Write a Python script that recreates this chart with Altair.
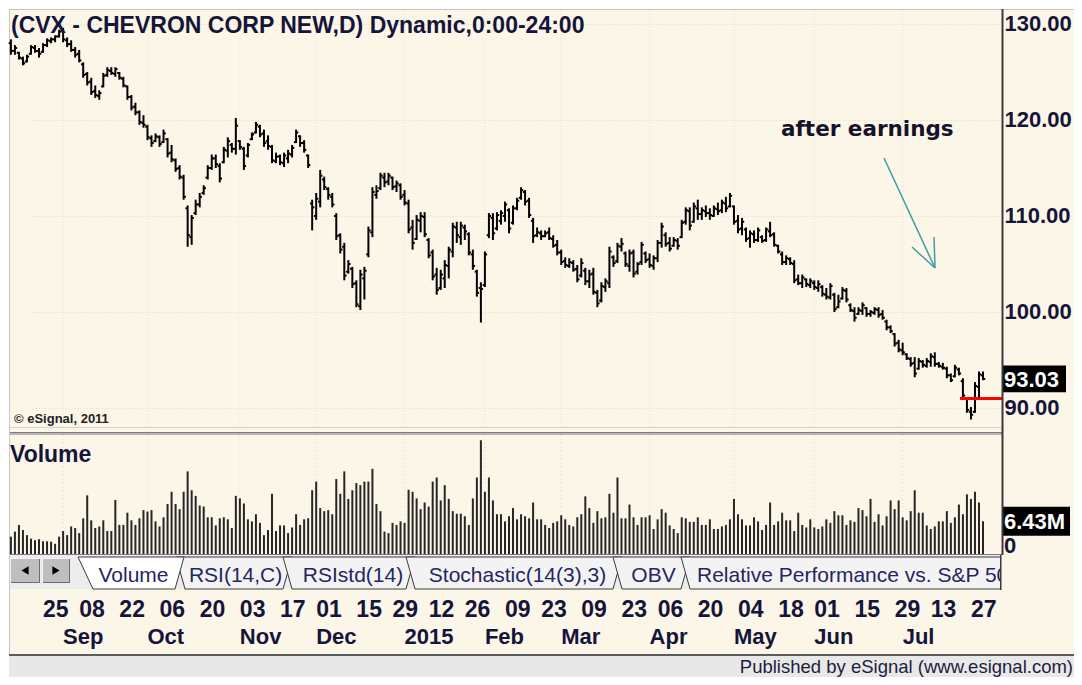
import altair as alt
import pandas as pd

# ---------------- data ----------------
high = [
128.4,127.8,127.1,126.6,126.8,127.8,127.8,127.5,128.0,128.5,
128.6,128.8,129.4,129.6,128.6,128.3,127.6,127.3,126.0,125.0,
124.4,123.6,123.1,124.9,125.5,125.5,125.5,125.0,124.5,123.6,
122.6,121.8,121.0,120.5,119.5,118.4,118.6,118.4,119.0,118.1,
117.4,116.0,115.3,114.3,111.1,110.1,111.7,112.4,113.2,115.3,
116.4,116.4,115.5,117.2,118.2,117.6,120.2,117.9,117.2,117.6,
118.7,119.8,119.5,119.0,118.4,117.4,116.6,116.4,116.6,116.9,
117.4,119.0,118.4,117.9,116.4,111.7,112.4,114.8,114.1,113.0,
112.4,110.3,108.2,107.2,105.4,104.7,103.3,104.4,104.7,108.9,
113.0,113.2,114.5,114.5,114.5,114.1,113.7,113.4,112.7,111.7,
109.6,110.1,110.4,110.4,107.7,106.5,104.6,104.4,105.4,106.8,
109.3,109.4,109.4,109.1,108.3,106.5,104.4,103.1,106.3,110.3,
110.3,110.4,110.6,111.5,110.8,111.1,111.9,113.0,112.7,111.9,
109.8,108.8,108.5,108.5,108.8,108.0,107.5,106.5,105.7,105.6,
105.4,104.9,105.6,104.6,104.4,104.6,102.3,103.1,103.5,106.8,
105.9,107.2,107.7,106.3,106.5,106.5,105.2,107.3,106.3,106.1,
105.9,107.5,109.3,108.3,107.8,107.8,107.7,109.6,110.9,110.9,
111.4,111.7,110.9,111.1,110.8,111.1,111.4,111.7,112.0,112.4,
111.1,110.1,109.8,108.8,108.5,108.5,108.8,108.0,108.8,109.4,
108.3,107.0,106.3,105.9,105.7,105.4,103.9,103.9,103.5,103.5,
103.3,103.3,102.8,102.5,103.0,102.0,101.8,102.6,102.5,100.9,
100.5,100.5,101.0,100.5,100.2,100.5,100.5,100.2,99.2,98.6,
97.8,97.1,96.8,95.7,95.3,95.3,95.2,95.0,95.2,95.7,
95.8,94.8,94.7,94.3,93.6,94.5,94.2,93.1,91.1,90.1,
92.7,93.8,93.8]

low = [
126.8,126.8,126.3,125.7,126.0,126.8,127.0,126.5,127.0,127.6,
128.0,128.1,128.6,128.1,127.6,127.1,126.5,126.0,124.4,123.6,
122.6,122.3,122.1,123.4,124.5,124.7,124.5,124.2,123.4,122.1,
121.0,120.5,119.5,119.2,117.9,117.2,117.7,117.2,117.6,116.1,
115.6,114.6,113.8,111.7,106.8,107.0,110.1,110.9,112.2,113.8,
114.8,115.0,113.5,115.5,116.1,116.6,116.4,116.9,114.8,116.1,
117.9,118.6,118.2,117.2,116.9,115.5,115.5,115.3,115.1,115.5,
116.1,117.6,117.2,116.6,115.0,108.5,109.6,110.9,112.7,111.7,
110.9,107.5,106.1,103.3,104.0,102.5,100.5,100.2,101.3,105.7,
107.8,111.8,112.7,113.0,113.2,112.7,112.5,111.7,111.1,108.2,
106.5,107.5,108.3,107.8,105.6,103.3,101.8,102.3,102.5,103.5,
105.7,107.2,107.0,107.5,105.9,104.4,101.6,98.9,102.6,107.7,
107.5,108.5,109.1,109.4,108.2,109.1,110.6,111.7,111.1,109.8,
107.2,107.8,107.5,107.8,107.5,106.7,105.9,104.9,104.6,104.6,
104.2,103.1,103.6,102.8,102.5,101.8,100.5,101.0,102.1,102.5,
104.7,105.1,106.3,104.7,104.2,103.6,103.9,104.9,105.1,104.6,
104.4,105.2,106.7,106.8,106.3,106.8,106.5,107.7,109.1,108.5,
109.3,109.6,109.6,109.9,109.6,109.9,110.1,110.3,110.4,110.9,
109.1,108.2,108.0,107.3,106.7,107.2,107.3,107.2,107.3,107.8,
106.8,106.1,104.9,104.9,104.9,103.0,102.8,102.5,102.6,102.5,
102.3,102.1,101.6,101.3,101.3,100.0,100.4,101.3,101.0,100.0,
99.0,99.7,99.7,99.5,99.5,99.7,99.4,99.2,98.1,97.8,
96.4,95.8,95.5,95.0,94.3,93.2,94.0,94.2,94.2,94.3,
94.3,94.2,94.0,93.1,92.7,93.2,93.4,91.0,89.5,88.8,
89.5,91.1,92.9]

open_ = [
128.0,127.2,127.0,126.4,126.1,126.9,127.5,127.2,127.1,127.8,
128.2,128.4,128.7,129.3,128.3,127.9,127.3,126.9,125.8,124.8,
124.0,123.0,122.5,123.5,124.7,125.1,124.8,124.9,124.3,123.5,
122.4,121.4,120.8,119.7,119.3,118.1,117.8,118.2,117.7,118.0,
116.6,115.8,115.0,114.0,110.8,107.8,110.3,111.2,112.4,114.0,
115.0,116.0,115.2,115.6,116.8,117.4,117.0,117.8,117.0,116.3,
118.0,118.7,119.3,118.6,117.8,117.2,115.7,116.2,115.5,116.0,
116.4,117.7,118.3,117.6,116.3,111.3,110.0,111.5,113.8,112.8,
112.0,110.0,108.0,106.8,104.2,104.5,103.0,100.6,103.5,106.0,
108.3,112.2,112.9,114.0,113.6,114.0,113.1,113.2,112.2,111.3,
108.8,107.6,109.5,109.9,107.5,106.2,103.9,102.5,103.5,104.8,
106.3,108.8,107.8,108.8,108.1,106.0,104.2,102.5,102.8,108.0,
109.8,108.7,109.5,110.0,110.6,109.3,110.8,111.9,112.5,111.6,
109.5,108.0,108.2,107.9,108.3,107.6,107.0,106.2,105.3,104.8,
105.1,104.5,103.8,104.3,103.2,104.0,102.0,101.2,102.6,103.0,
105.7,105.3,106.8,106.1,104.8,106.2,104.2,105.2,106.1,105.5,
104.8,105.6,107.2,108.0,107.2,106.9,107.4,107.8,109.4,110.5,
109.4,110.8,110.2,110.5,110.3,110.0,110.7,110.6,111.3,111.0,
111.0,109.5,108.7,108.6,107.7,108.1,107.5,107.8,107.5,108.4,
108.1,106.9,106.0,105.2,105.5,105.0,103.4,103.0,103.4,102.8,
103.0,102.5,102.6,101.8,101.5,101.8,100.5,101.4,102.2,100.7,
100.1,99.8,100.1,100.4,99.8,99.9,100.2,99.8,99.0,98.4,
97.7,96.8,96.0,95.6,95.1,94.7,94.1,94.8,94.4,94.8,
95.3,94.6,94.3,94.1,93.4,93.3,94.0,92.8,91.0,89.6,
89.6,92.2,93.4]

close = [
127.2,127.5,126.5,125.9,126.6,127.6,127.2,126.9,127.8,128.3,
128.4,128.7,129.2,128.4,127.9,127.3,126.8,126.2,124.7,123.9,
122.9,122.6,122.8,124.6,125.2,124.9,125.3,124.4,123.6,122.4,
121.3,120.8,119.8,119.5,118.2,117.6,118.3,117.5,118.6,116.5,
115.9,114.9,114.1,112.0,108.0,109.8,111.2,112.0,112.9,115.0,
116.0,115.4,113.9,116.9,117.8,117.0,119.4,117.2,115.2,117.4,
118.5,119.5,118.5,117.6,117.3,115.8,116.2,115.6,116.3,116.5,
117.1,118.7,117.6,116.9,115.3,110.9,111.8,114.2,113.0,112.2,
111.2,107.9,106.5,103.8,105.0,102.9,100.8,103.9,104.3,108.5,
112.5,112.6,114.2,113.5,114.2,113.0,113.4,112.0,111.4,108.6,
107.2,109.6,110.0,108.1,105.9,103.7,102.3,103.9,104.9,106.5,
108.9,108.0,109.0,108.4,106.2,104.8,102.0,102.4,106.0,110.0,
108.2,110.1,110.3,111.2,108.7,110.8,111.6,112.7,111.5,110.1,
107.9,108.3,107.9,108.2,107.7,106.9,106.2,105.2,104.9,105.2,
104.4,103.4,105.1,103.2,103.9,102.1,100.9,102.7,103.2,106.3,
105.1,106.9,107.1,105.0,106.1,104.0,105.0,107.0,105.4,104.9,
105.6,107.2,108.9,107.1,106.6,107.5,106.9,109.3,110.6,109.0,
111.0,110.2,110.6,110.3,110.1,110.8,110.5,111.4,110.8,112.1,
109.4,108.6,109.4,107.6,108.2,107.5,108.5,107.4,108.6,108.0,
107.0,106.3,105.2,105.6,105.1,103.3,103.0,103.6,102.9,103.2,
102.6,102.9,101.9,101.6,102.7,100.3,101.1,102.3,101.3,100.2,
99.4,100.2,100.7,99.8,100.0,100.3,99.7,99.4,98.4,98.0,
96.7,96.1,95.8,95.2,94.6,93.6,94.9,94.5,94.9,95.4,
94.6,94.4,94.2,93.4,92.9,94.2,93.6,91.3,89.8,89.3,
92.3,93.5,93.03]

volume_m = [
3.4,4.4,5.7,4.7,3.7,3.0,2.7,2.9,2.5,2.5,
2.4,2.0,3.4,4.5,3.7,5.4,5.1,4.1,7.0,11.5,
6.6,5.1,5.4,6.6,4.5,4.5,10.6,5.7,5.7,8.1,
6.6,5.7,7.0,8.6,8.3,8.6,6.4,5.4,7.2,9.8,
12.2,9.8,8.8,12.2,16.2,12.5,11.4,9.5,9.3,7.2,
7.2,5.6,7.0,7.2,6.8,5.1,11.4,10.9,9.9,6.8,
6.4,7.8,6.1,3.7,4.7,11.8,4.5,5.6,5.6,4.1,
5.2,7.8,5.7,6.8,7.0,12.5,14.2,9.0,8.4,8.6,
7.8,14.7,11.8,16.2,10.8,12.5,13.9,13.5,14.2,14.2,
16.7,9.8,8.4,4.4,4.1,6.1,5.7,6.4,6.1,12.6,
12.2,10.9,8.8,10.1,9.3,14.2,15.0,10.5,13.5,10.8,
8.4,7.9,7.9,7.4,5.7,10.9,15.0,22.3,12.2,15.0,
10.5,7.8,7.8,6.4,7.4,9.0,6.8,7.8,7.4,7.0,
10.1,6.8,
6.8,5.7,5.1,6.1,6.4,7.6,6.8,5.7,5.4,7.2,
7.8,11.3,9.0,6.1,8.4,7.0,7.2,11.8,8.1,15.0,
7.0,7.0,9.7,7.2,5.7,7.2,7.2,7.6,4.9,6.8,
8.8,8.1,5.6,4.9,4.1,7.2,7.0,6.3,6.3,7.2,
5.7,5.7,6.8,4.9,4.9,5.4,5.7,6.8,10.8,7.8,
6.8,5.6,5.6,7.2,6.4,4.7,5.7,10.1,5.7,6.4,
8.1,6.6,6.6,4.5,8.1,5.7,5.2,6.8,5.2,4.9,
5.4,6.8,6.1,8.4,7.6,7.6,5.7,6.6,6.3,9.0,
8.6,7.4,10.8,6.3,7.8,5.6,7.4,10.5,8.8,10.5,
7.2,6.6,8.4,12.5,8.1,8.1,5.6,4.9,5.4,6.4,
6.4,8.4,6.1,7.2,9.7,7.8,11.7,10.8,12.2,10.1,
6.43]

# trading-day index of the date ticks and their labels
tick_k = [8, 17, 27, 37, 47, 57, 67, 76, 86, 95, 104, 113, 123, 132, 142, 152,
          161, 171, 181, 191, 200, 210, 220, 229, 239]
tick_lab = ["25", "08", "22", "06", "20", "03", "17", "01", "15", "29", "12", "26",
            "09", "23", "09", "23", "06", "20", "04", "18", "01", "15", "29", "13", "27"]
month_k = [13, 34, 57, 76, 98, 118, 137, 159, 180, 200, 222]
month_lab = ["Sep", "Oct", "Nov", "Dec", "2015", "Feb", "Mar", "Apr", "May", "Jun", "Jul"]
price_ticks = [90, 100, 110, 120, 130]
red_level = [91.0]

title_text = "(CVX - CHEVRON CORP NEW,D) Dynamic,0:00-24:00"
tab_names = ["Volume", "RSI(14,C)", "RSIstd(14)", "Stochastic(14(3),3)", "OBV",
             "Relative Performance vs. S&P 500"]

# ---------------- tables ----------------
N = len(close)
bars = pd.DataFrame({"k": list(range(N)), "open": open_, "high": high,
                     "low": low, "close": close, "volume": volume_m})
ticks_df = pd.DataFrame({"k": tick_k, "t": tick_lab})
months_df = pd.DataFrame({"k": month_k, "t": month_lab})
red_df = pd.DataFrame({"p": red_level})
last_df = bars.tail(1)

# ---------------- layout / style ----------------
CREAM = "#FCF6E9"
INK = "#15153a"
FONT = "Liberation Sans"
W, H, RPAD = 994, 669, 72

xs = alt.Scale(domain=[0, 242], range=[2.9, 975.0], nice=False, zero=False)
ps = alt.Scale(domain=[87.8125, 131.4583], range=[421, 2], nice=False, zero=False)
vs = alt.Scale(domain=[0, 23.53], range=[546, 426], nice=False, zero=False)
PXX = alt.Scale(domain=[0, 1066], range=[0, 1066], nice=False, zero=False)
PXY = alt.Scale(domain=[0, 669], range=[0, 669], nice=False, zero=False)

price_axis = alt.Axis(orient="right", values=price_ticks, format=".2f", title=None,
                      domain=False, ticks=False, labelPadding=2, labelFont=FONT,
                      labelFontWeight="bold", labelFontSize=22, labelColor=INK,
                      labelFlush=False, labelOverlap=False, labelBound=False,
                      grid=True, gridColor="#E4DDCC", gridDash=[1, 2], gridWidth=1)
XK = alt.X("k:Q", scale=xs, axis=None)


def px_x(f):
    return alt.X(f, scale=PXX, axis=None)


def px_y(f):
    return alt.Y(f, scale=PXY, axis=None)


def rect_layer(rows):
    df = pd.DataFrame(rows, columns=["x", "x2", "y", "y2", "c"])
    return alt.Chart(df).mark_rect().encode(
        x=px_x("x:Q"), x2="x2:Q", y=px_y("y:Q"), y2="y2:Q",
        color=alt.Color("c:N", scale=None))


def seg_layer(rows):
    df = pd.DataFrame(rows, columns=["x", "y", "x2", "y2", "c", "w"])
    return alt.Chart(df).mark_rule().encode(
        x=px_x("x:Q"), x2="x2:Q", y=px_y("y:Q"), y2="y2:Q",
        color=alt.Color("c:N", scale=None),
        strokeWidth=alt.StrokeWidth("w:Q", scale=None))


def text_layer(rows, **mk):
    df = pd.DataFrame(rows, columns=["x", "y", "t"])
    return alt.Chart(df).mark_text(**mk).encode(x=px_x("x:Q"), y=px_y("y:Q"), text="t:N")


# ---------------- background decorations ----------------
deco_bg = alt.layer(
    rect_layer([
        (0, 1066, 0, 1, "#FFFFFF"),
        (0, 1066, 1, 2, "#C4C4C4"),
        (0, 1, 0, 669, "#FFFFFF"),
        (1, 2, 1, 648, "#C8C8C8"),
        (2, 994, 419, 420, "#D2D2D2"),
        (2, 994, 424, 425.5, "#7A7A7A"),
        (2, 994, 425.5, 427, "#B4B4B4"),
        (2, 994, 546, 547, "#7A7A7A"),
        (2, 992, 547, 581, "#ECECEC"),
        (1, 1066, 646, 648, "#5C5C5C"),
        (1, 1066, 648, 669, "#E8E8E8"),
    ])
)

# ---------------- price panel ----------------
pb = alt.Chart(bars)
grid_p = alt.Chart(months_df).mark_rule(color="#E2DBCA", strokeDash=[1, 3], strokeWidth=1).encode(
    x=XK, y=alt.value(2), y2=alt.value(419))
hl = pb.mark_rule(color="#000000", strokeWidth=2).encode(
    x=XK, y=alt.Y("low:Q", scale=ps, axis=price_axis), y2="high:Q")
otick = pb.transform_calculate(ko="datum.k - 0.55").mark_rule(color="#000000", strokeWidth=2).encode(
    x=alt.X("ko:Q", scale=xs, axis=None), x2="k:Q", y=alt.Y("open:Q", scale=ps, axis=price_axis))
ctick = pb.transform_calculate(kc="datum.k + 0.55").mark_rule(color="#000000", strokeWidth=2).encode(
    x=XK, x2="kc:Q", y=alt.Y("close:Q", scale=ps, axis=price_axis))
redline = alt.Chart(red_df).mark_rule(color="#FF0000", strokeWidth=3).encode(
    x=alt.value(952), x2=alt.value(994), y=alt.Y("p:Q", scale=ps, axis=price_axis))
last_box = alt.Chart(last_df).transform_calculate(
    yt="datum.close + 1.4", yb="datum.close - 1.4").mark_rect(color="#000000").encode(
    x=alt.value(995), x2=alt.value(1058), y=alt.Y("yt:Q", scale=ps, axis=price_axis), y2="yb:Q")
last_txt = alt.Chart(last_df).mark_text(
    align="left", baseline="middle", font=FONT, fontWeight="bold", fontSize=22,
    color="#FFFFFF", dy=1).encode(
    x=alt.value(996), y=alt.Y("close:Q", scale=ps, axis=price_axis),
    text=alt.Text("close:Q", format=".2f"))
day_txt = alt.Chart(ticks_df).mark_text(
    align="left", baseline="alphabetic", font=FONT, fontWeight="bold", fontSize=23,
    color=INK).encode(x=XK, y=alt.value(609), text="t:N")
mon_txt = alt.Chart(months_df).mark_text(
    align="left", baseline="alphabetic", font=FONT, fontWeight="bold", fontSize=22,
    color=INK).encode(x=XK, y=alt.value(636), text="t:N")
price_grp = alt.layer(grid_p, hl, otick, ctick, redline, last_box, last_txt, day_txt, mon_txt)

# ---------------- volume panel ----------------
grid_v = alt.Chart(months_df).mark_rule(color="#E2DBCA", strokeDash=[1, 3], strokeWidth=1).encode(
    x=XK, y=alt.value(427), y2=alt.value(546))
vbars = alt.Chart(bars).transform_calculate(z="0").mark_rule(color="#262626", strokeWidth=2).encode(
    x=XK, y=alt.Y("volume:Q", scale=vs, axis=None), y2="z:Q")
zero_df = pd.DataFrame({"v": [0]})
zero_txt = alt.Chart(zero_df).mark_text(
    align="left", baseline="alphabetic", font=FONT, fontWeight="bold", fontSize=22,
    color=INK, dy=-1).encode(x=alt.value(996), y=alt.Y("v:Q", scale=vs, axis=None), text=alt.value("0"))
vol_box = alt.Chart(last_df).transform_calculate(
    yt="datum.volume + 2.85", yb="datum.volume - 2.85").mark_rect(color="#000000").encode(
    x=alt.value(995), x2=alt.value(1062), y=alt.Y("yt:Q", scale=vs, axis=None), y2="yb:Q")
vol_txt = alt.Chart(last_df).transform_calculate(
    lab="format(datum.volume, '.2f') + 'M'").mark_text(
    align="left", baseline="middle", font=FONT, fontWeight="bold", fontSize=22,
    color="#FFFFFF", dy=1).encode(
    x=alt.value(996), y=alt.Y("volume:Q", scale=vs, axis=None), text="lab:N")
vol_grp = alt.layer(grid_v, vbars, zero_txt, vol_box, vol_txt)

# ---------------- foreground decorations (tabs, texts, arrow) ----------------
TT, TB = 549, 581


def tab_layer(x0, x1, x2, x3, fill):
    df = pd.DataFrame({"x": [x0, x1, x2, x3], "y": [TT, TT, TT, TT], "y2": [TT, TB, TB, TT]})
    return alt.Chart(df).mark_area(orient="vertical", fill=fill, stroke="#3A3A3A",
                                   strokeWidth=1, interpolate="linear").encode(
        x=px_x("x:Q"), y=px_y("y:Q"), y2="y2:Q")


tabs = [
    tab_layer(168, 177, 275, 284, "#F3F3F3"),
    tab_layer(275, 284, 398, 407, "#F3F3F3"),
    tab_layer(398, 407, 605, 614, "#F3F3F3"),
    tab_layer(605, 614, 673, 682, "#F3F3F3"),
    tab_layer(673, 682, 1002, 1011, "#F3F3F3"),
    tab_layer(70, 85, 167, 176, "#FFFFFF"),
]

buttons = rect_layer([
    (2, 32, 550, 575, "#F4F4F4"), (3, 32, 551, 575, "#6E6E6E"), (3, 31, 551, 574, "#BEBEBE"),
    (34, 62, 550, 575, "#F4F4F4"), (35, 62, 551, 575, "#6E6E6E"), (35, 61, 551, 574, "#BEBEBE"),
])
arrows_df = pd.DataFrame({"x": [17, 48], "y": [562.5, 562.5], "s": ["triangle-left", "triangle-right"]})
arrows = alt.Chart(arrows_df).mark_point(filled=True, size=70, color="#000000", opacity=1).encode(
    x=px_x("x:Q"), y=px_y("y:Q"), shape=alt.Shape("s:N", scale=None))

arrow = seg_layer([
    (876, 150, 927, 260, "#3E9E9E", 1.5),
    (927, 260, 926, 229, "#3E9E9E", 1.5),
    (927, 260, 904, 239, "#3E9E9E", 1.5),
])

title = text_layer([(3, 25, title_text)], align="left", baseline="alphabetic", font=FONT,
                   fontWeight="bold", fontSize=23, color=INK)
note = text_layer([(773, 128, "after earnings")], align="left", baseline="alphabetic",
                  font="DejaVu Sans", fontWeight="bold", fontSize=21.5, color="#141428")
vol_lab = text_layer([(2, 454, "Volume")], align="left", baseline="alphabetic", font=FONT,
                     fontWeight="bold", fontSize=23, color=INK)
copy_lab = text_layer([(6, 415, "\u00a9 eSignal, 2011")], align="left", baseline="alphabetic",
                      font=FONT, fontWeight="bold", fontSize=13, color="#222222")
tab_txt = text_layer([(125.5, 574, tab_names[0]), (227.6, 574, tab_names[1]),
                      (345, 574, tab_names[2]), (509.5, 574, tab_names[3]),
                      (645.5, 574, tab_names[4])],
                     align="center", baseline="alphabetic", font=FONT, fontSize=21, color="#26265e")
tab_txt2 = text_layer([(689, 574, tab_names[5])], align="left", baseline="alphabetic",
                      font=FONT, fontSize=21, color="#26265e")
cover = rect_layer([(993, 1066, 547, 582, CREAM), (992, 993.5, 547, 582, "#3A3A3A"),
                    (993.5, 995.5, 1, 547, "#3A3A3A")])
footer = text_layer([(1065, 665, "Published by eSignal (www.esignal.com)")], align="right",
                    baseline="alphabetic", font=FONT, fontSize=18.5, color="#1e1e40")

deco_fg = alt.layer(*tabs, tab_txt, tab_txt2, cover, buttons, arrows, arrow,
                    title, note, vol_lab, copy_lab, footer)

chart = alt.layer(deco_bg, price_grp, vol_grp, deco_fg).resolve_scale(
    x="independent", y="independent"
).properties(
    width=W, height=H,
    autosize=alt.AutoSizeParams(type="none"),
    padding={"left": 0, "top": 0, "right": RPAD, "bottom": 0},
    background=CREAM,
).configure_view(stroke=None)

chart.save("out.html", embed_options={"renderer": "svg", "actions": False})
